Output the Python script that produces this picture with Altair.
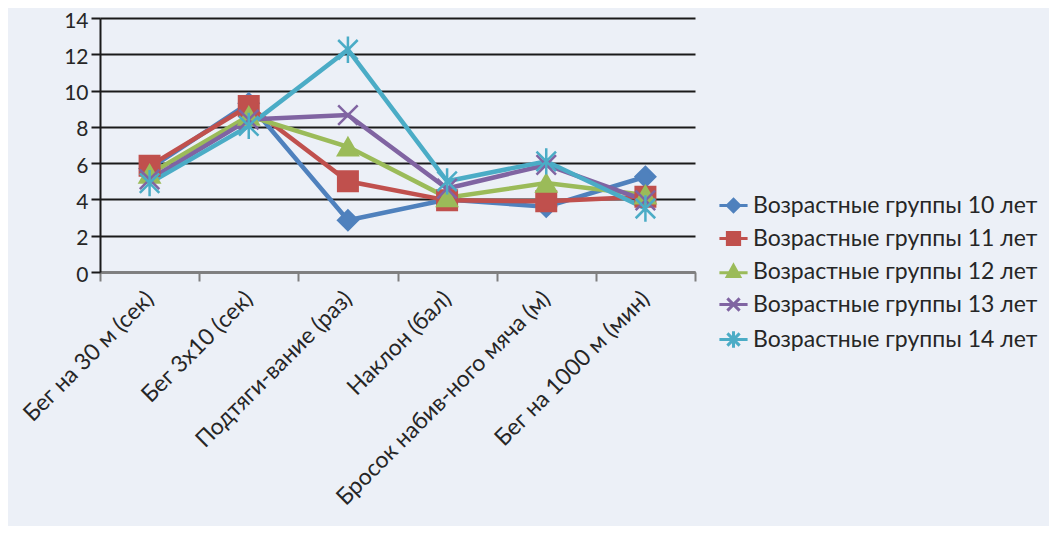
import altair as alt
import pandas as pd

categories = ["Бег на 30 м (сек)", "Бег 3x10 (сек)", "Подтяги-вание (раз)",
              "Наклон (бал)", "Бросок набив-ного мяча (м)", "Бег на 1000 м (мин)"]
series = ["Возрастные группы 10 лет", "Возрастные группы 11 лет",
          "Возрастные группы 12 лет", "Возрастные группы 13 лет",
          "Возрастные группы 14 лет"]
v10 = [5.7, 9.3, 2.85, 4.0, 3.6, 5.25]
v11 = [5.85, 9.15, 5.0, 3.95, 3.9, 4.15]
v12 = [5.4, 8.6, 6.9, 4.1, 4.9, 4.25]
v13 = [5.1, 8.4, 8.65, 4.6, 5.9, 3.95]
v14 = [4.9, 8.05, 12.25, 5.0, 6.1, 3.5]
colors = ["#4F81BD", "#C0504D", "#9BBB59", "#8064A2", "#4BACC6"]

shape_x = "M-1,-1L1,1M-1,1L1,-1"
shape_star = "M-1,-1L1,1M-1,1L1,-1M0,-1.35L0,1.35"
chart_shapes = ["diamond", "square", "triangle-up", shape_x, shape_star]
legend_shapes = [
    "M-2.3,0L2.3,0M0,-1L1,0L0,1L-1,0Z",
    "M-2.3,0L2.3,0M-1,-1L1,-1L1,1L-1,1Z",
    "M-2.3,0.2L2.3,0.2M0,-1L1,0.8L-1,0.8Z",
    "M-2.3,0L2.3,0M-1,-1L1,1M-1,1L1,-1",
    "M-2.3,0L2.3,0M-1,-1L1,1M-1,1L1,-1M0,-1.35L0,1.35",
]

rows = []
for s, vals in zip(series, [v10, v11, v12, v13, v14]):
    for c, v in zip(categories, vals):
        rows.append({"cat": c, "series": s, "value": v})
df = pd.DataFrame(rows)

FONT = "Lato"
TXT = "#262626"

x_enc = alt.X(
    "cat:N", sort=categories, bandPosition=0.5,
    scale=alt.Scale(type="band", paddingInner=0, paddingOuter=0),
    axis=alt.Axis(tickBand="extent", labelAngle=-45, labelAlign="right",
                  labelBaseline="middle", labelFontSize=23, labelFont=FONT,
                  labelColor=TXT, labelPadding=14, domainColor="#7f7f7f",
                  domainWidth=2.5, tickColor="#7f7f7f", tickWidth=2, tickSize=9,
                  grid=False, title=None, labelLimit=0),
)
y_enc = alt.Y(
    "value:Q", scale=alt.Scale(domain=[0, 14], nice=False),
    axis=alt.Axis(values=list(range(0, 15, 2)), grid=True, gridColor="#1a1a1a",
                  gridWidth=2, domainColor="#1a1a1a", domainWidth=2,
                  tickColor="#1a1a1a", tickWidth=2, tickSize=9,
                  labelFontSize=21, labelFont=FONT, labelColor=TXT,
                  labelPadding=3, labelOffset=3, title=None),
)

def cscale():
    return alt.Scale(domain=series, range=colors)

lines = alt.Chart(df).mark_line(strokeWidth=4.5).encode(
    x=x_enc, y=y_enc,
    color=alt.Color("series:N", scale=cscale(), legend=None),
    order=alt.Order("series:N"),
)

points = alt.Chart(df).mark_point(filled=True, strokeWidth=2.5, opacity=1).encode(
    x=x_enc, y=y_enc,
    color=alt.Color("series:N", scale=cscale(), legend=None),
    stroke=alt.Stroke("series:N", scale=cscale(), legend=None),
    shape=alt.Shape("series:N", scale=alt.Scale(domain=series, range=chart_shapes), legend=None),
    size=alt.value(380),
)

leg = alt.Chart(df).transform_filter("false").mark_point(
    filled=True, strokeWidth=3, opacity=1).encode(
    color=alt.Color("series:N", scale=cscale(),
                    legend=alt.Legend(orient="none", legendX=622, legendY=176,
                                      title=None, labelFont=FONT, labelFontSize=23,
                                      labelColor=TXT, symbolSize=150,
                                      symbolStrokeWidth=3, labelOffset=8,
                                      rowPadding=8, padding=0, labelLimit=0)),
    stroke=alt.Stroke("series:N", scale=cscale(), legend=None),
    shape=alt.Shape("series:N", scale=alt.Scale(domain=series, range=legend_shapes)),
)

chart = alt.layer(lines, points, leg).resolve_scale(
    color="independent", shape="independent", stroke="independent"
).properties(
    width=595, height=254,
    autosize=alt.AutoSizeParams(type="none"),
    padding={"left": 92, "top": 10, "right": 354, "bottom": 254},
    background="#ECF0F7",
).configure_view(stroke=None)

chart.save("out.html", embed_options={"renderer": "svg", "actions": False})
